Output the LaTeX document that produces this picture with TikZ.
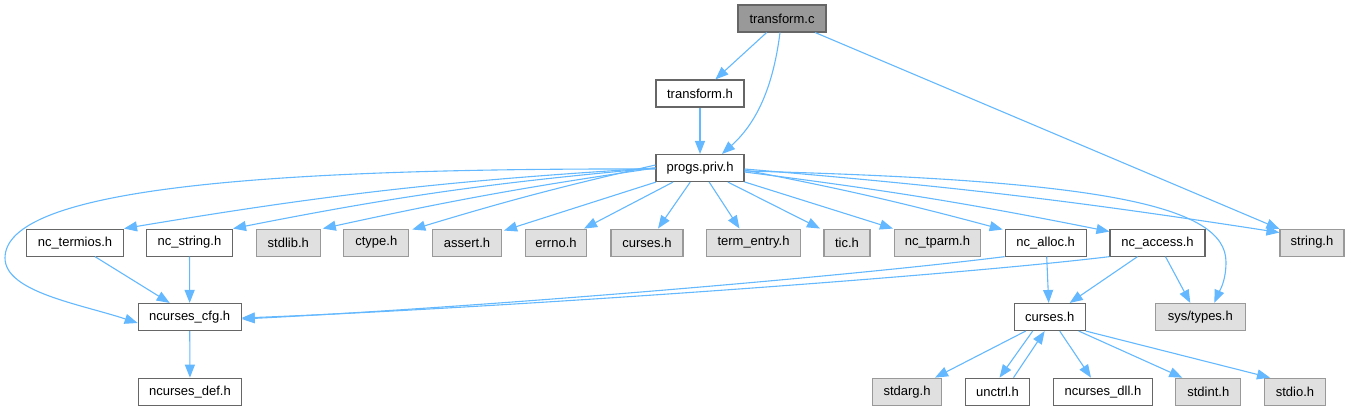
\documentclass[tikz,border=0pt]{standalone}
\usepackage{fontspec}
\setmainfont{Liberation Sans}
\usetikzlibrary{arrows.meta}
\definecolor{edgec}{HTML}{63B8FF}
\definecolor{bord}{HTML}{666666}
\definecolor{gbord}{HTML}{999999}
\definecolor{gfill}{HTML}{E0E0E0}
\definecolor{rootfill}{HTML}{999999}
\tikzset{
  hbox/.style={draw=bord, fill=white, line width=1.1pt, minimum height=27pt, inner sep=0pt, font=\fontsize{13}{15}\selectfont},
  sysbox/.style={hbox, draw=gbord, fill=gfill},
  rootbox/.style={hbox, fill=rootfill},
  dep/.style={draw=edgec, line width=1.1pt, -{Triangle[length=13pt,width=10pt]}}
}
\begin{document}
\begin{tikzpicture}[x=1pt,y=-1pt]
\useasboundingbox (0,0) rectangle (1350,411);
% row 1-2
\node[rootbox, minimum width=88pt] (tc) at (782,18.5) {transform.c};
\node[hbox, minimum width=88pt] (th) at (700,93.5) {transform.h};
\node[hbox, minimum width=88pt] (pp) at (700,168) {progs.priv.h};
% row 3
\node[hbox, minimum width=97pt] (nct) at (75,242.6) {nc\_termios.h};
\node[hbox, minimum width=86pt] (ncs) at (189.5,242.6) {nc\_string.h};
\node[sysbox, minimum width=64pt] (stdlib) at (288.3,242.6) {stdlib.h};
\node[sysbox, minimum width=65pt] (ctype) at (376.3,242.6) {ctype.h};
\node[sysbox, minimum width=69pt] (assert) at (467,242.6) {assert.h};
\node[sysbox, minimum width=61pt] (errno) at (556,242.6) {errno.h};
\node[sysbox, minimum width=72pt] (cursesa) at (647,242.6) {curses.h};
\node[sysbox, minimum width=94pt] (te) at (753.5,242.6) {term\_entry.h};
\node[sysbox, minimum width=46pt] (tic) at (847,242.6) {tic.h};
\node[sysbox, minimum width=86pt] (tparm) at (937.5,242.6) {nc\_tparm.h};
\node[hbox, minimum width=81pt] (alloc) at (1045.7,242.6) {nc\_alloc.h};
\node[hbox, minimum width=95pt] (access) at (1157.5,242.6) {nc\_access.h};
\node[sysbox, minimum width=64pt] (string) at (1312,242.6) {string.h};
% row 4
\node[hbox, minimum width=103pt] (cfg) at (189.7,317) {ncurses\_cfg.h};
\node[hbox, minimum width=71pt] (curses) at (1049.7,317) {curses.h};
\node[sysbox, minimum width=90pt] (systypes) at (1200.3,317) {sys/types.h};
% row 5
\node[hbox, minimum width=103pt] (def) at (190,391.7) {ncurses\_def.h};
\node[sysbox, minimum width=69pt] (stdarg) at (907,391.7) {stdarg.h};
\node[hbox, minimum width=64pt] (unctrl) at (997.5,391.7) {unctrl.h};
\node[hbox, minimum width=99pt] (dll) at (1103,391.7) {ncurses\_dll.h};
\node[sysbox, minimum width=65pt] (stdint) at (1208.3,391.7) {stdint.h};
\node[sysbox, minimum width=61pt] (stdio) at (1295,391.7) {stdio.h};

% edges from transform.c
\draw[dep] (tc) -- (th);
\draw[dep] ([xshift=-2pt]tc.south) .. controls (774,80) and (760,120) .. ([xshift=22pt]pp.north);
\draw[dep] (tc) -- (string);
\draw[dep] (th) -- (pp);

% edges from progs.priv.h
\draw[dep] ([yshift=-1pt]pp.west) .. controls (250,168) and (5,190) .. (5,258)
  .. controls (5,292) and (80,304) .. ([yshift=-6pt]cfg.west);
\draw[dep] (pp.west) to[bend right=3] (nct.north east);
\draw[dep] (pp.west) to[bend right=3] (ncs.north east);
\draw[dep] (pp.west) to[bend right=2] ([xshift=2pt]stdlib.north east);
\draw[dep] ([yshift=3pt]pp.west) to[bend right=2] ([xshift=3pt,yshift=-1pt]ctype.north east);
\draw[dep] (pp) -- ([xshift=2pt,yshift=-2pt]assert.north east);
\draw[dep] (pp) -- ([xshift=-3pt]errno.north east);
\draw[dep] (pp) -- ([xshift=11pt]cursesa.north);
\draw[dep] (pp) -- ([xshift=-14pt]te.north);
\draw[dep] (pp) -- ([xshift=-27pt]tic.north);
\draw[dep] (pp) -- ([xshift=-1pt]tparm.north west);
\draw[dep] ([yshift=-2pt]pp.east) to[bend left=2] ([xshift=-2pt,yshift=-1pt]alloc.north west);
\draw[dep] ([yshift=-4pt]pp.east) to[bend left=2] ([yshift=-3pt]access.north west);
\draw[dep] ([yshift=-1pt]pp.east) to[bend left=2] ([yshift=-4pt]string.north west);
\draw[dep] ([yshift=-3pt]pp.east) .. controls (1100,180) and (1226,205) .. (1226,262)
  .. controls (1226,282) and (1219,292) .. ([xshift=14pt]systypes.north);

% row 3 -> row 4
\draw[dep] ([xshift=20pt]nct.south) -- ([xshift=-20pt]cfg.north);
\draw[dep] (ncs) -- (cfg);
\draw[dep] (alloc.south west) .. controls (850,276) and (500,306) .. ([yshift=-2pt]cfg.east);
\draw[dep] (access.south west) .. controls (950,276) and (500,308) .. ([yshift=-1pt]cfg.east);
\draw[dep] ([xshift=1pt]alloc.south) -- ([xshift=-1pt]curses.north);
\draw[dep] ([xshift=-20pt]access.south) -- ([xshift=20pt]curses.north);
\draw[dep] ([xshift=8pt]access.south) -- ([xshift=-10pt]systypes.north);

% row 4 -> row 5
\draw[dep] (cfg) -- (def);
\draw[dep] ([xshift=-24pt]curses.south) -- ([xshift=28pt]stdarg.north);
\draw[dep] ([xshift=-17pt]curses.south) -- ([xshift=2pt]unctrl.north);
\draw[dep] ([xshift=16pt]unctrl.north) -- ([xshift=-5pt]curses.south);
\draw[dep] ([xshift=10pt]curses.south) -- ([xshift=-12pt]dll.north);
\draw[dep] ([xshift=29pt]curses.south) -- ([xshift=-26pt]stdint.north);
\draw[dep] (curses.south east) -- ([xshift=-25pt]stdio.north);
\end{tikzpicture}
\end{document}
